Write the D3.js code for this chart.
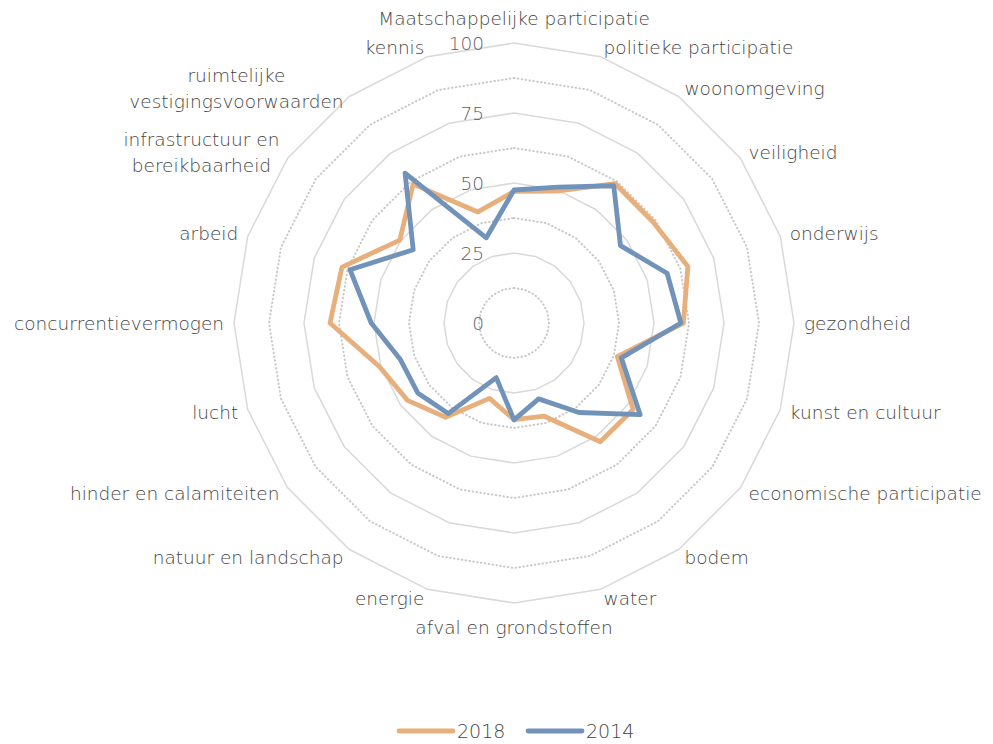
<!DOCTYPE html>
<html>
<head>
<meta charset="utf-8">
<script src="https://cdn.jsdelivr.net/npm/d3@7"></script>
<style>
  html, body { margin: 0; padding: 0; background: #ffffff; }
  svg { display: block; }
  text { font-family: "DejaVu Sans", "Lato", sans-serif; font-weight: 200; }
</style>
</head>
<body>
<script>
// ---- data ----
const categories = [
  "Maatschappelijke participatie",
  "politieke participatie",
  "woonomgeving",
  "veiligheid",
  "onderwijs",
  "gezondheid",
  "kunst en cultuur",
  "economische participatie",
  "bodem",
  "water",
  "afval en grondstoffen",
  "energie",
  "natuur en landschap",
  "hinder en calamiteiten",
  "lucht",
  "concurrentievermogen",
  "arbeid",
  "infrastructuur en\nbereikbaarheid",
  "ruimtelijke\nvestigingsvoorwaarden",
  "kennis"
];
const seriesNames = ["2018", "2014"];
const values2018 = [47, 49.5, 61.5, 61.4, 65.3, 60.5, 38.8, 52.6, 52.4, 35, 34.5, 28.3, 41.6, 47, 50.5, 65.7, 64.6, 50.4, 61.3, 41.7];
const values2014 = [47.5, 51, 60.6, 47, 57.5, 59.6, 40.3, 55.7, 39.5, 28.5, 34.6, 20.5, 40, 42.5, 42.6, 51, 61.6, 44.5, 66.2, 32];
const majorTicks = [0, 25, 50, 75, 100];
const minorTicks = [12.5, 37.5, 62.5, 87.5];
const tickLabels = ["0", "25", "50", "75", "100"];
const seriesColors = ["#E7AF7C", "#7293B9"];

// ---- layout ----
const W = 993, H = 744;
const cx = 514, cy = 323, R = 280;
const svg = d3.select("body").append("svg").attr("width", W).attr("height", H);
const g = svg.append("g").attr("transform", `translate(${cx},${cy})`);

const n = categories.length;
const r = d3.scaleLinear().domain([0, 100]).range([0, R]);
const angle = d3.scaleLinear().domain([0, n]).range([0, 2 * Math.PI]);
const idx = d3.range(n);

const ringLine = lvl => d3.lineRadial()
  .angle(i => angle(i))
  .radius(() => r(lvl))
  .curve(d3.curveLinearClosed)(idx);

// minor dotted rings
g.selectAll("path.minor").data(minorTicks).join("path")
  .attr("class", "minor")
  .attr("d", d => ringLine(d))
  .attr("fill", "none")
  .attr("stroke", "#c8c8c8")
  .attr("stroke-width", 2)
  .attr("stroke-linecap", "round")
  .attr("stroke-dasharray", "0.5,3.4");

// major solid rings
g.selectAll("path.major").data(majorTicks.filter(d => d > 0)).join("path")
  .attr("class", "major")
  .attr("d", d => ringLine(d))
  .attr("fill", "none")
  .attr("stroke", "#d9d9d9")
  .attr("stroke-width", 1.5);

// series
const seriesData = [values2018, values2014];
const radial = d3.lineRadial()
  .angle((d, i) => angle(i))
  .radius(d => r(d))
  .curve(d3.curveLinearClosed);

g.selectAll("path.series").data(seriesData).join("path")
  .attr("class", "series")
  .attr("d", d => radial(d))
  .attr("fill", "none")
  .attr("stroke", (d, i) => seriesColors[i])
  .attr("stroke-width", 4.8)
  .attr("stroke-linejoin", "round");

// value tick labels
g.selectAll("text.tick").data(majorTicks).join("text")
  .attr("class", "tick")
  .attr("x", -30)
  .attr("y", d => -r(d))
  .attr("dy", "0.36em")
  .attr("text-anchor", "end")
  .attr("fill", "#5e5e5e")
  .style("font-size", "18.5px")
  .text((d, i) => tickLabels[i]);

// category labels
const labelR = R + 10;
const lineH = 26;
categories.forEach((c, i) => {
  const a = angle(i);
  const s = Math.sin(a), co = Math.cos(a);
  const x = labelR * s, y = -labelR * co;
  const lines = c.split("\n");
  const t = g.append("text")
    .attr("fill", "#454545")
    .style("font-size", "18.5px");
  let anchor = "middle";
  if (s > 0.01) anchor = "start";
  else if (s < -0.01) anchor = "end";
  let yc = y;
  if (Math.abs(s) <= 0.01) yc = y + (co > 0 ? -15 : 14);
  const tsp = lines.map((ln, k) => t.append("tspan")
    .attr("x", x)
    .attr("y", yc + (k - (lines.length - 1) / 2) * lineH)
    .attr("dy", "0.36em")
    .text(ln));
  if (lines.length > 1) {
    const widths = tsp.map(e => e.node().getComputedTextLength());
    const bw = Math.max(...widths);
    const center = anchor === "end" ? x - bw / 2 : (anchor === "start" ? x + bw / 2 : x);
    t.attr("text-anchor", "middle");
    tsp.forEach(e => e.attr("x", center));
  } else {
    t.attr("text-anchor", anchor);
  }
});

// legend
const legend = svg.append("g").attr("transform", "translate(0,731)");
const legendX = [399, 528];
seriesNames.forEach((name, i) => {
  legend.append("line")
    .attr("x1", legendX[i]).attr("x2", legendX[i] + 54)
    .attr("y1", 0).attr("y2", 0)
    .attr("stroke", seriesColors[i])
    .attr("stroke-width", 4.8)
    .attr("stroke-linecap", "round");
  legend.append("text")
    .attr("x", legendX[i] + 58)
    .attr("y", 0)
    .attr("dy", "0.36em")
    .attr("fill", "#454545")
    .style("font-size", "19px")
    .text(name);
});
</script>
</body>
</html>
